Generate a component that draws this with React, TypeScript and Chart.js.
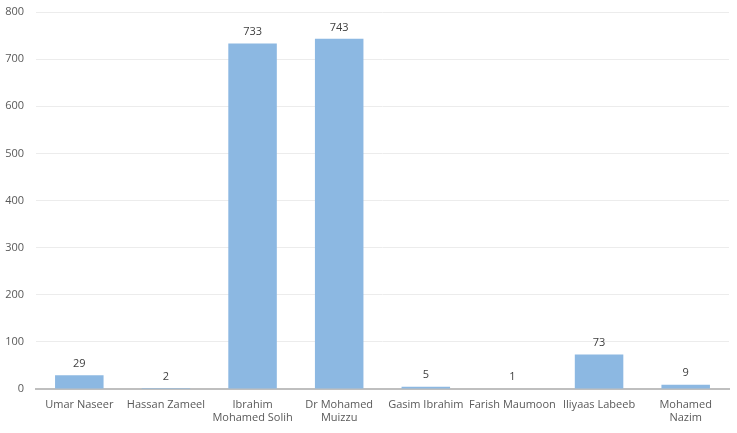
import React, { useRef, useEffect } from 'react';
import { Chart, registerables } from 'chart.js';

Chart.register(...registerables);

const candidates: (string | string[])[] = [
    'Umar Naseer',
    'Hassan Zameel',
    ['Ibrahim', 'Mohamed Solih'],
    ['Dr Mohamed', 'Muizzu'],
    'Gasim Ibrahim',
    'Farish Maumoon',
    'Iliyaas Labeeb',
    ['Mohamed', 'Nazim'],
];
const votes = [29, 2, 733, 743, 5, 1, 73, 9];

const FONT = "'Open Sans', 'Noto Sans', sans-serif";

const valueLabels = {
    id: 'valueLabels',
    afterDatasetsDraw(chart: Chart) {
        const ctx = chart.ctx;
        const meta = chart.getDatasetMeta(0);
        ctx.save();
        ctx.font = `11px ${FONT}`;
        ctx.fillStyle = '#404040';
        ctx.textAlign = 'center';
        ctx.textBaseline = 'bottom';
        meta.data.forEach((bar: any, i: number) => {
            ctx.fillText(String(votes[i]), bar.x, bar.y - 6);
        });
        ctx.restore();
    },
};

const App: React.FC = () => {
    const chartRef = useRef<HTMLCanvasElement | null>(null);

    useEffect(() => {
        if (!chartRef.current) return;
        const chart = new Chart(chartRef.current, {
            type: 'bar',
            data: {
                labels: candidates,
                datasets: [{
                    data: votes,
                    backgroundColor: '#8cb8e2',
                    categoryPercentage: 0.56,
                    barPercentage: 1,
                }],
            },
            options: {
                animation: false,
                responsive: false,
                maintainAspectRatio: false,
                layout: { padding: { top: 12, right: 8, left: 0, bottom: 0 } },
                plugins: {
                    legend: { display: false },
                    tooltip: { enabled: false },
                },
                scales: {
                    x: {
                        grid: { display: false },
                        border: { color: '#bfbfbf', width: 2 },
                        ticks: {
                            color: '#595959',
                            font: { family: FONT, size: 11 },
                            maxRotation: 0,
                            autoSkip: false,
                            padding: 1,
                        },
                        afterFit: (s: any) => { s.height = 44; },
                    },
                    y: {
                        min: 0,
                        max: 800,
                        grid: { color: '#ececec', drawTicks: false },
                        border: { display: false },
                        ticks: {
                            stepSize: 100,
                            color: '#595959',
                            font: { family: FONT, size: 11 },
                            padding: 12,
                        },
                        afterFit: (s: any) => { s.width = 36; s.paddingTop = 0; },
                    },
                },
            },
            plugins: [valueLabels],
        });
        return () => {
            chart.destroy();
        };
    }, []);

    return (
        <div style={{ position: 'absolute', left: 0, top: 0, width: 737, height: 433, background: '#fff' }}>
            <canvas ref={chartRef} width={737} height={433} style={{ width: 737, height: 433 }}></canvas>
        </div>
    );
};

export default App;
